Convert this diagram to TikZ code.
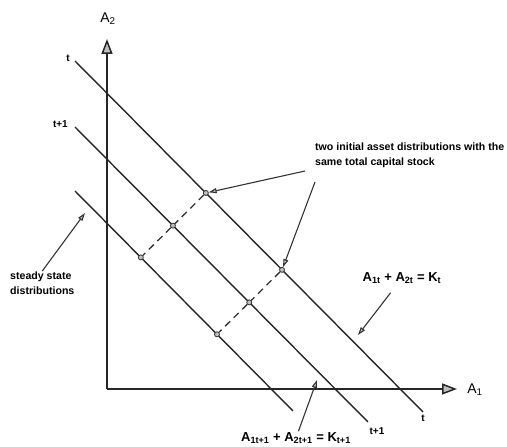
\documentclass[tikz,border=0pt]{standalone}
\usepackage{fontspec}
\setmainfont{Liberation Sans}
\usetikzlibrary{arrows.meta,positioning,calc}

\begin{document}
\begin{tikzpicture}[x=1pt,y=1pt,
  mline/.style={line width=1.4pt,black!85},
  axis/.style={line width=1.5pt,black!85,-{Triangle[length=15pt,width=11pt,fill=gray!50]}},
  ptr/.style={line width=1.1pt,black!80,-{Triangle[length=8pt,width=5pt,fill=gray!40]}},
  dot/.style={circle,draw=black!80,fill=gray!50,line width=0.8pt,inner sep=0pt,minimum size=5pt},
  dashline/.style={line width=1.3pt,black!80,dash pattern=on 7pt off 5pt},
  note/.style={font=\fontsize{10.6}{15}\selectfont\bfseries,align=left,inner sep=1pt},
  eqn/.style={font=\fontsize{13}{15}\selectfont\bfseries,inner sep=1pt},
  tlbl/.style={font=\fontsize{10}{12}\selectfont\bfseries,inner sep=1pt},
  axlbl/.style={font=\fontsize{14}{16}\selectfont,inner sep=1pt}]
\useasboundingbox (0,0) rectangle (507,447);
\coordinate (O) at (107,58);
\coordinate (ytip) at (107,408);
\coordinate (xtip) at (457,58);
\draw[axis] (O) -- (ytip);
\draw[axis] (O) -- (xtip);
\node[axlbl] (a2) at (108,428) {A\textsubscript{2}};
\node[axlbl] (a1) at (475,57) {A\textsubscript{1}};
\foreach \nm/\ya/\xb/\yb in {t/386/423/35,u/320/368/25,s/256/293/36}
  \draw[mline] (75,\ya) coordinate (\nm0) -- (\xb,\yb) coordinate (\nm1);
\node[tlbl,left=4pt of t0,yshift=3pt] (lt0) {t};
\node[tlbl,left=6pt of u0,yshift=3pt] (lu0) {t+1};
\node[tlbl,below=2pt of t1] (lt1) {t};
\node[tlbl] (lu1) at (377,16) {t+1};
\node[dot] (p1) at ($(t0)!0.376!(t1)$) {};
\node[dot] (p2) at ($(t0)!0.595!(t1)$) {};
\node[dot] (q1) at ($(u0)!(p1)!(u1)$) {};
\node[dot] (q2) at ($(u0)!(p2)!(u1)$) {};
\node[dot] (s1) at ($(s0)!(p1)!(s1)$) {};
\node[dot] (s2) at ($(s0)!(p2)!(s1)$) {};
\draw[dashline] (p1) -- (q1) -- (s1);
\draw[dashline] (p2) -- (q2) -- (s2);
\node[note,anchor=north west] (two) at (314,305) {two initial asset distributions with the\\same total capital stock};
\node[note,anchor=north west] (steady) at (9,176) {steady state\\distributions};
\node[eqn] (eqt) at (402,169) {A\textsubscript{1t} + A\textsubscript{2t} = K\textsubscript{t}};
\node[eqn] (equ) at (296,9) {A\textsubscript{1t+1} + A\textsubscript{2t+1} = K\textsubscript{t+1}};
\coordinate (twoA) at (305,276);
\coordinate (twoB) at (315,265);
\coordinate (tipt) at (358,112);
\coordinate (tipu) at (317,67);
\coordinate (tips) at (85,234);
\draw[ptr] (twoA) -- (p1);
\draw[ptr] (twoB) -- (p2);
\draw[ptr,shorten <=10pt] (eqt) -- (tipt);
\draw[ptr] (equ) -- (tipu);
\draw[ptr] (steady.north) -- (tips);
\end{tikzpicture}
\end{document}
